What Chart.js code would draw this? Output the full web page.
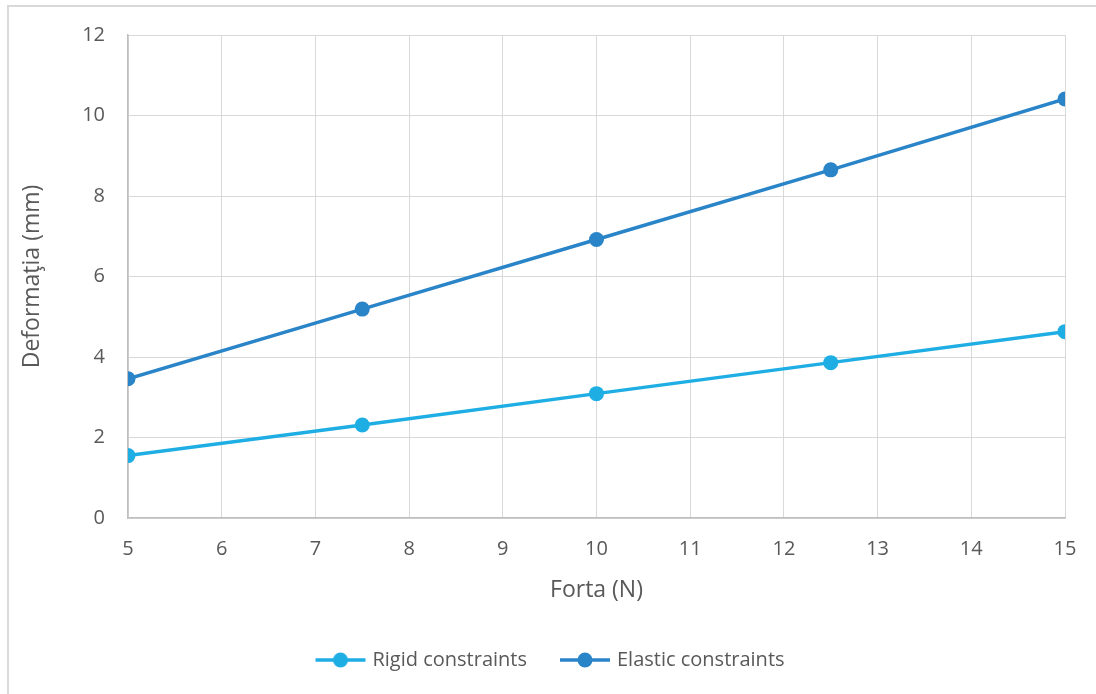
<!DOCTYPE html>
<html>
<head>
<meta charset="utf-8">
<script src="https://cdn.jsdelivr.net/npm/chart.js@4"></script>
<style>
  html, body { margin: 0; padding: 0; background: #fff; }
  #wrap { width: 1096px; height: 694px; position: relative; }
</style>
</head>
<body>
<div id="wrap"><canvas id="myChart"></canvas></div>
<script>
// data
let forces = [5, 7.5, 10, 12.5, 15];
let rigid = [1.55, 2.31, 3.09, 3.86, 4.63];
let elastic = [3.46, 5.19, 6.92, 8.65, 10.41];
let xTicks = [5, 6, 7, 8, 9, 10, 11, 12, 13, 14, 15];
let yTicks = [0, 2, 4, 6, 8, 10, 12];

let colors = ['#1eaee4', '#2a84c8'];
let textColor = '#595959';
let fontFam = "'Open Sans', sans-serif";

// legend marker: line with a dot in the middle, like excel
function marker(color) {
    let c = document.createElement('canvas');
    c.width = 52;
    c.height = 16;
    let g = c.getContext('2d');
    g.strokeStyle = color;
    g.lineWidth = 3.5;
    g.beginPath();
    g.moveTo(1, 8);
    g.lineTo(51, 8);
    g.stroke();
    g.fillStyle = color;
    g.beginPath();
    g.arc(26, 8, 7.5, 0, Math.PI * 2);
    g.fill();
    return c;
}
let markers = colors.map(marker);

// light frame around the chart, and nudge the legend a bit right
let frame = {
    id: 'frame',
    afterLayout(chart) {
        chart.legend.left += 15;
        chart.legend.right += 15;
    },
    beforeDraw(chart) {
        let ctx = chart.ctx;
        ctx.save();
        ctx.fillStyle = '#fff';
        ctx.fillRect(0, 0, chart.width, chart.height);
        ctx.strokeStyle = '#d9d9d9';
        ctx.lineWidth = 2;
        ctx.strokeRect(8, 6, chart.width + 20, chart.height + 20);
        ctx.restore();
    }
};

let ctx = document.getElementById('myChart').getContext('2d');

let chart = new Chart(ctx, {
    type: 'line',
    data: {
        datasets: [{
            label: 'Rigid constraints',
            data: forces.map((f, i) => ({ x: f, y: rigid[i] })),
            borderColor: colors[0],
            backgroundColor: colors[0],
        }, {
            label: 'Elastic constraints',
            data: forces.map((f, i) => ({ x: f, y: elastic[i] })),
            borderColor: colors[1],
            backgroundColor: colors[1],
        }]
    },
    options: {
        responsive: true,
        maintainAspectRatio: false,
        animation: false,
        layout: {
            padding: { left: 8, right: 31, top: 35, bottom: 14 }
        },
        elements: {
            line: { borderWidth: 3.5 },
            point: { pointStyle: 'circle', radius: 7.5, hoverRadius: 7.5, borderWidth: 0 }
        },
        scales: {
            x: {
                type: 'linear',
                min: 5,
                max: 15,
                afterBuildTicks: (axis) => { axis.ticks = xTicks.map(v => ({ value: v })); },
                afterFit: (axis) => { axis.height = 96; },
                ticks: { color: textColor, font: { family: fontFam, size: 20 }, padding: 19 },
                grid: { color: '#d9d9d9', drawTicks: false },
                border: { color: '#bfbfbf', width: 1.5 },
                title: {
                    display: true,
                    text: 'Forta (N)',
                    color: textColor,
                    font: { family: fontFam, size: 23 },
                    padding: { top: 0, bottom: 10 }
                }
            },
            y: {
                min: 0,
                max: 12,
                afterBuildTicks: (axis) => { axis.ticks = yTicks.map(v => ({ value: v })); },
                afterFit: (axis) => { axis.width = 120; },
                ticks: { color: textColor, font: { family: fontFam, size: 20 }, padding: 23 },
                grid: { color: '#d9d9d9', drawTicks: false },
                border: { color: '#bfbfbf', width: 1.5 },
                title: {
                    display: true,
                    text: 'Deformaţia (mm)',
                    color: textColor,
                    font: { family: fontFam, size: 23 },
                    padding: { top: 11, bottom: 0 }
                }
            }
        },
        plugins: {
            legend: {
                position: 'bottom',
                labels: {
                    usePointStyle: true,
                    pointStyleWidth: 44,
                    color: textColor,
                    font: { family: fontFam, size: 20 },
                    padding: 36,
                    generateLabels: (ch) => {
                        let items = Chart.defaults.plugins.legend.labels.generateLabels(ch);
                        items.forEach((it, i) => { it.pointStyle = markers[i]; });
                        return items;
                    }
                }
            },
            tooltip: { enabled: false }
        }
    },
    plugins: [frame]
});
</script>
</body>
</html>
